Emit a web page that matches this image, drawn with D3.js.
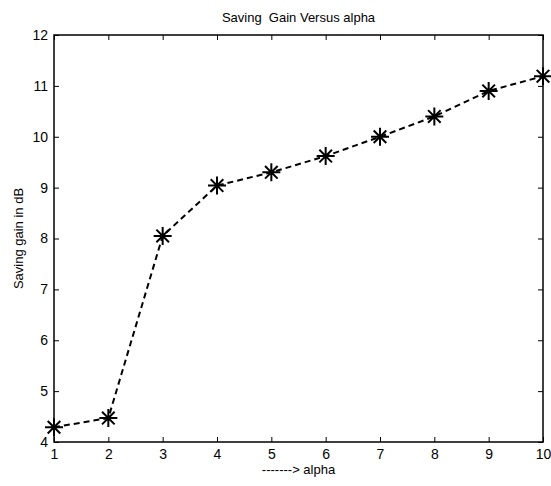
<!DOCTYPE html>
<html><head><meta charset="utf-8">
<script src="https://cdn.jsdelivr.net/npm/d3@7"></script>
<style>body{margin:0;background:#fff}svg{display:block}</style>
</head><body>
<script>
const alpha = [1,2,3,4,5,6,7,8,9,10];
const gain = [4.29,4.47,8.05,9.04,9.3,9.62,10.0,10.4,10.9,11.19];
const xTicks = [1,2,3,4,5,6,7,8,9,10];
const yTicks = [4,5,6,7,8,9,10,11,12];
const W=551,H=486, L=54, R=543, T=35, B=442;
const svg=d3.select("body").append("svg").attr("width",W).attr("height",H)
  .style("font-family","'Liberation Sans', Arial, sans-serif");
const x=d3.scaleLinear().domain([1,10]).range([L,R]);
const y=d3.scaleLinear().domain([4,12]).range([B,T]);
svg.append("rect").attr("x",L).attr("y",T).attr("width",R-L).attr("height",B-T)
  .attr("fill","none").attr("stroke","#000").attr("stroke-width",1.5);
const fs=14;
const xa=svg.append("g").attr("transform",`translate(0,${B})`)
  .call(d3.axisBottom(x).tickValues(xTicks).tickSize(-5).tickPadding(7).tickFormat(d3.format("d")));
const xt=svg.append("g").attr("transform",`translate(0,${T})`)
  .call(d3.axisTop(x).tickValues(xTicks).tickSize(-5).tickFormat(""));
const ya=svg.append("g").attr("transform",`translate(${L},0)`)
  .call(d3.axisLeft(y).tickValues(yTicks).tickSize(-5).tickPadding(6).tickFormat(d3.format("d")));
const yr=svg.append("g").attr("transform",`translate(${R},0)`)
  .call(d3.axisRight(y).tickValues(yTicks).tickSize(-5).tickFormat(""));
[xa,xt,ya,yr].forEach(g=>{g.select(".domain").remove();
  g.selectAll("line").attr("stroke","#000").attr("stroke-width",1);
  g.selectAll("text").attr("fill","#000").style("font-size",fs+"px").style("font-family","'Liberation Sans', Arial, sans-serif");});
xa.selectAll("text").attr("dy","0.71em");
const line=d3.line().x((d,i)=>x(alpha[i])).y(d=>y(d));
svg.append("path").datum(gain).attr("d",line).attr("fill","none")
  .attr("stroke","#000").attr("stroke-width",2).attr("stroke-dasharray","6,4");
const s=9;
const star=`M${-s},0L${s},0M0,${-s}L0,${s}M${-s*0.7},${-s*0.7}L${s*0.7},${s*0.7}M${-s*0.7},${s*0.7}L${s*0.7},${-s*0.7}`;
svg.append("g").selectAll("path").data(gain).join("path")
  .attr("transform",(d,i)=>`translate(${x(alpha[i])},${y(d)})`)
  .attr("d",star).attr("stroke","#000").attr("stroke-width",2).attr("fill","none");
svg.append("text").attr("x",(L+R)/2).attr("y",22).attr("text-anchor","middle").attr("fill","#000")
  .style("font-size","13px").attr("xml:space","preserve").text("Saving  Gain Versus alpha");
svg.append("text").attr("x",(L+R)/2).attr("y",474).attr("text-anchor","middle").attr("fill","#000")
  .style("font-size","13px").text("-------> alpha");
svg.append("text").attr("transform",`translate(23,${(T+B)/2}) rotate(-90)`).attr("text-anchor","middle").attr("fill","#000")
  .style("font-size","13px").text("Saving gain in dB");
</script>
</body></html>
